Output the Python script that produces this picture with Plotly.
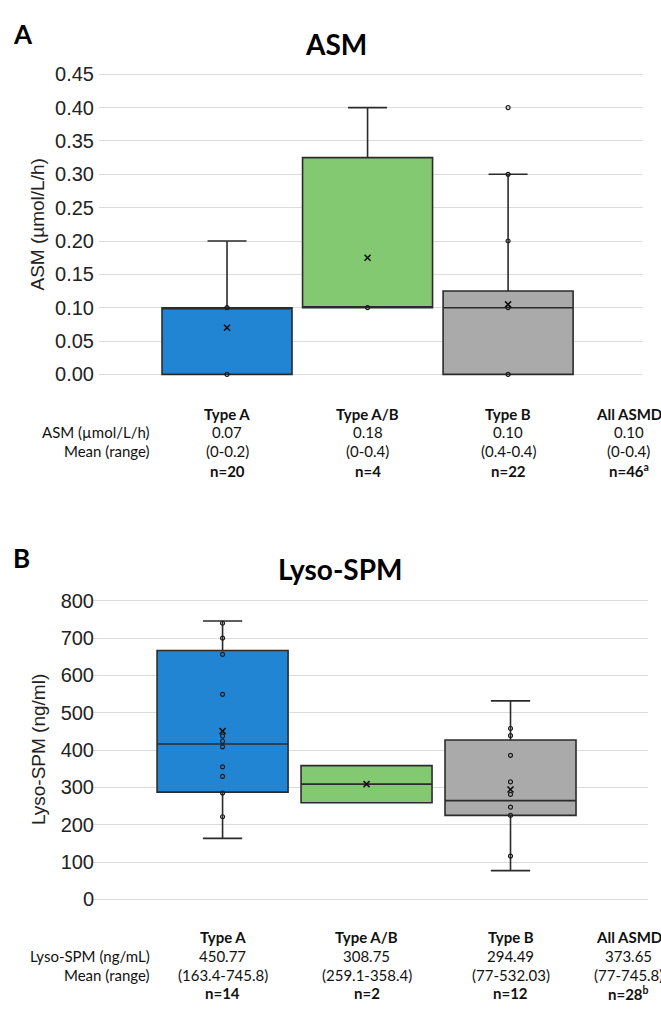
import plotly.graph_objects as go

W, H = 661, 1015

categories = ["Type A", "Type A/B", "Type B"]
cat_pos = [1, 2, 3]
box_colors = ["#2285D3", "#83C972", "#AAAAAA"]

# Panel A: ASM (umol/L/h)
asm_q1 = [0.0, 0.10, 0.0]
asm_median = [0.10, 0.10, 0.10]
asm_q3 = [0.10, 0.325, 0.125]
asm_lowerfence = [0.0, 0.10, 0.0]
asm_upperfence = [0.20, 0.40, 0.30]
asm_mean = [0.07, 0.175, 0.105]
asm_points_a = [0.0, 0.10]
asm_points_ab = [0.10]
asm_points_b = [0.0, 0.10, 0.20, 0.30, 0.40]

# Panel B: Lyso-SPM (ng/ml)
lyso_q1 = [287.4, 259.1, 225.0]
lyso_median = [416.5, 308.75, 264.7]
lyso_q3 = [667.0, 358.4, 427.0]
lyso_lowerfence = [163.4, 259.1, 77.0]
lyso_upperfence = [745.8, 358.4, 532.03]
lyso_mean = [450.77, 308.75, 294.49]
lyso_points_a = [740, 700, 656.5, 549.5, 437.7, 423.7, 408.7, 355, 329.6, 284.8, 221.5]
lyso_points_ab = []
lyso_points_b = [458, 438.7, 386, 314.8, 281.3, 247, 225, 116]

# Tables
table_cols = ["Type A", "Type A/B", "Type B", "All ASMD"]
asm_mean_txt = ["0.07", "0.18", "0.10", "0.10"]
asm_range_txt = ["(0-0.2)", "(0-0.4)", "(0.4-0.4)", "(0-0.4)"]
asm_n_txt = ["n=20", "n=4", "n=22", "n=46<sup>a</sup>"]
lyso_mean_txt = ["450.77", "308.75", "294.49", "373.65"]
lyso_range_txt = ["(163.4-745.8)", "(259.1-358.4)", "(77-532.03)", "(77-745.8)"]
lyso_n_txt = ["n=14", "n=2", "n=12", "n=28<sup>b</sup>"]

AXFONT = "Arial, Liberation Sans, sans-serif"
TXFONT = "Lato, Open Sans, sans-serif"

fig = go.Figure()


def add_panel(xa, ya, q1, med, q3, lo, hi, mean, pts, width):
    for i in range(3):
        fig.add_trace(go.Box(
            x=[cat_pos[i]], q1=[q1[i]], median=[med[i]], q3=[q3[i]],
            lowerfence=[lo[i]], upperfence=[hi[i]],
            fillcolor=box_colors[i], line=dict(color="#2b2b2b", width=1.6),
            whiskerwidth=0.3, width=width, boxpoints=False,
            xaxis=xa, yaxis=ya, showlegend=False, hoverinfo="skip"))
        if pts[i]:
            fig.add_trace(go.Scatter(
                x=[cat_pos[i]] * len(pts[i]), y=pts[i], mode="markers",
                marker=dict(symbol="circle-open", size=4, color="#1a1a1a",
                            line=dict(width=1.2, color="#1a1a1a")),
                xaxis=xa, yaxis=ya, showlegend=False, hoverinfo="skip"))
        fig.add_trace(go.Scatter(
            x=[cat_pos[i]], y=[mean[i]], mode="markers",
            marker=dict(symbol="x-thin", size=6, color="#111",
                        line=dict(width=1.6, color="#111")),
            xaxis=xa, yaxis=ya, showlegend=False, hoverinfo="skip"))


add_panel("x", "y", asm_q1, asm_median, asm_q3, asm_lowerfence, asm_upperfence,
          asm_mean, [asm_points_a, asm_points_ab, asm_points_b], 0.925)
add_panel("x2", "y2", lyso_q1, lyso_median, lyso_q3, lyso_lowerfence, lyso_upperfence,
          lyso_mean, [lyso_points_a, lyso_points_ab, lyso_points_b], 0.91)


def px(x):
    return x / W


def py(y):
    return 1 - y / H


grid = "#DCDCDC"
fig.update_layout(
    width=W, height=H, autosize=False,
    margin=dict(l=0, r=0, t=0, b=0),
    paper_bgcolor="white", plot_bgcolor="white",
    xaxis=dict(domain=[px(99), px(643)], range=[0.089, 3.96], showgrid=False,
               zeroline=False, showticklabels=False, showline=False),
    yaxis=dict(domain=[py(375.0), py(64.6)], range=[-0.004, 0.454],
               tickvals=[0, 0.05, 0.1, 0.15, 0.2, 0.25, 0.3, 0.35, 0.4, 0.45],
               tickformat=".2f", showgrid=True, gridcolor=grid, gridwidth=1,
               zeroline=False, showline=False, ticks="",
               tickfont=dict(family=AXFONT, size=20, color="#222"),
               ticklabelstandoff=4),
    xaxis2=dict(domain=[px(93), px(648)], range=[0.10, 3.955], showgrid=False,
                zeroline=False, showticklabels=False, showline=False),
    yaxis2=dict(domain=[py(908.7), py(599.3)], range=[-8, 808],
                tickvals=[0, 100, 200, 300, 400, 500, 600, 700, 800],
                showgrid=True, gridcolor=grid, gridwidth=1,
                zeroline=False, showline=False, ticks="",
                tickfont=dict(family=AXFONT, size=20, color="#222"),
                ticklabelstandoff=4),
)

ann = []
# Panel letters and titles
ann.append(dict(text="<b>A</b>", x=px(11), y=py(26), xanchor="left", yanchor="middle",
                font=dict(family=TXFONT, size=26, color="#000")))
ann.append(dict(text="<b>ASM</b>", x=px(336), y=py(37), xanchor="center", yanchor="middle",
                font=dict(family=TXFONT, size=28, color="#000")))
ann.append(dict(text="<b>B</b>", x=px(11), y=py(559), xanchor="left", yanchor="middle",
                font=dict(family=TXFONT, size=26, color="#000")))
ann.append(dict(text="<b>Lyso-SPM</b>", x=px(340), y=py(570), xanchor="center", yanchor="middle",
                font=dict(family=TXFONT, size=28, color="#000")))
# Y axis titles
ann.append(dict(text="ASM (µmol/L/h)", x=px(38), y=py(220), textangle=-90,
                xanchor="center", yanchor="middle",
                font=dict(family=AXFONT, size=19, color="#222")))
ann.append(dict(text="Lyso-SPM (ng/ml)", x=px(38), y=py(754), textangle=-90,
                xanchor="center", yanchor="middle",
                font=dict(family=AXFONT, size=19, color="#222")))


def add_table(xref, col_x, rows_y, label, means, ranges, ns):
    f = dict(family=TXFONT, size=15, color="#111")
    for j, c in enumerate(table_cols):
        ann.append(dict(text="<b>%s</b>" % c, xref=xref, x=col_x[j], y=py(rows_y[0]),
                        xanchor="center", yanchor="middle", font=f))
        ann.append(dict(text=means[j], xref=xref, x=col_x[j], y=py(rows_y[1]),
                        xanchor="center", yanchor="middle", font=f))
        ann.append(dict(text=ranges[j], xref=xref, x=col_x[j], y=py(rows_y[2]),
                        xanchor="center", yanchor="middle", font=f))
        ann.append(dict(text="<b>%s</b>" % ns[j], xref=xref, x=col_x[j], y=py(rows_y[3]),
                        xanchor="center", yanchor="middle", font=f))
    ann.append(dict(text=label, xref="paper", x=px(152), y=py(rows_y[1]),
                    xanchor="right", yanchor="middle", font=f))
    ann.append(dict(text="Mean (range)", xref="paper", x=px(152), y=py(rows_y[2]),
                    xanchor="right", yanchor="middle", font=f))


add_table("x", [1, 2, 3, 3.86], [412, 431, 450, 470], "ASM (µmol/L/h)",
          asm_mean_txt, asm_range_txt, asm_n_txt)
add_table("x2", [1, 2, 3, 3.82], [944, 963, 982, 1001], "Lyso-SPM (ng/mL)",
          lyso_mean_txt, lyso_range_txt, lyso_n_txt)

for a in ann:
    a.setdefault("xref", "paper")
    a["yref"] = "paper"
    a["showarrow"] = False
fig.update_layout(annotations=ann)

fig.write_html(
    "out.html",
    config={"displayModeBar": False},
    post_script="document.body.style.margin='0';document.body.style.overflow='hidden';",
)
